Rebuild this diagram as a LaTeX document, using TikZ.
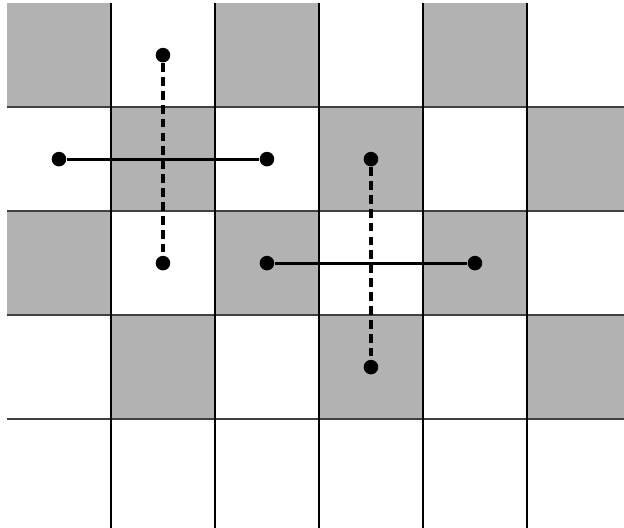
\documentclass[tikz,border=0pt]{standalone}
\usepackage{tikz}
\usetikzlibrary{calc}

\tikzset{
  dot/.style={circle, fill=black, inner sep=0pt, minimum size=0.14cm},
  pairline/.style={black, line width=0.85pt},
  pairdash/.style={black, line width=0.85pt, dash pattern=on 2.4pt off 1.4pt}
}

\begin{document}
\begin{tikzpicture}
  \clip (-0.067,-0.038) rectangle (5.933,5.03);
  \foreach \r in {0,...,3} {
    \foreach \c in {0,...,5} {
      \pgfmathtruncatemacro{\parity}{mod(\r+\c,2)}
      \ifnum\parity=0
        \fill[black!30] (\c,4-\r) rectangle (\c+1,5-\r);
      \fi
    }
  }
  \foreach \y in {1,...,4}
    \draw[black!75, line width=0.55pt] (0,\y) -- (6,\y);
  \foreach \x in {1,...,5}
    \draw[black, line width=0.45pt] (\x,-0.1) -- (\x,5);
  \node[dot] (a1) at (1.5,4.5) {};
  \node[dot] (a2) at (1.5,2.5) {};
  \node[dot] (b1) at (0.5,3.5) {};
  \node[dot] (b2) at (2.5,3.5) {};
  \node[dot] (c1) at (3.5,3.5) {};
  \node[dot] (c2) at (3.5,1.5) {};
  \node[dot] (d1) at (2.5,2.5) {};
  \node[dot] (d2) at (4.5,2.5) {};
  \draw[pairdash] (a1) -- (a2);
  \draw[pairline] (b1) -- (b2);
  \draw[pairdash] (c1) -- (c2);
  \draw[pairline] (d1) -- (d2);
\end{tikzpicture}
\end{document}
